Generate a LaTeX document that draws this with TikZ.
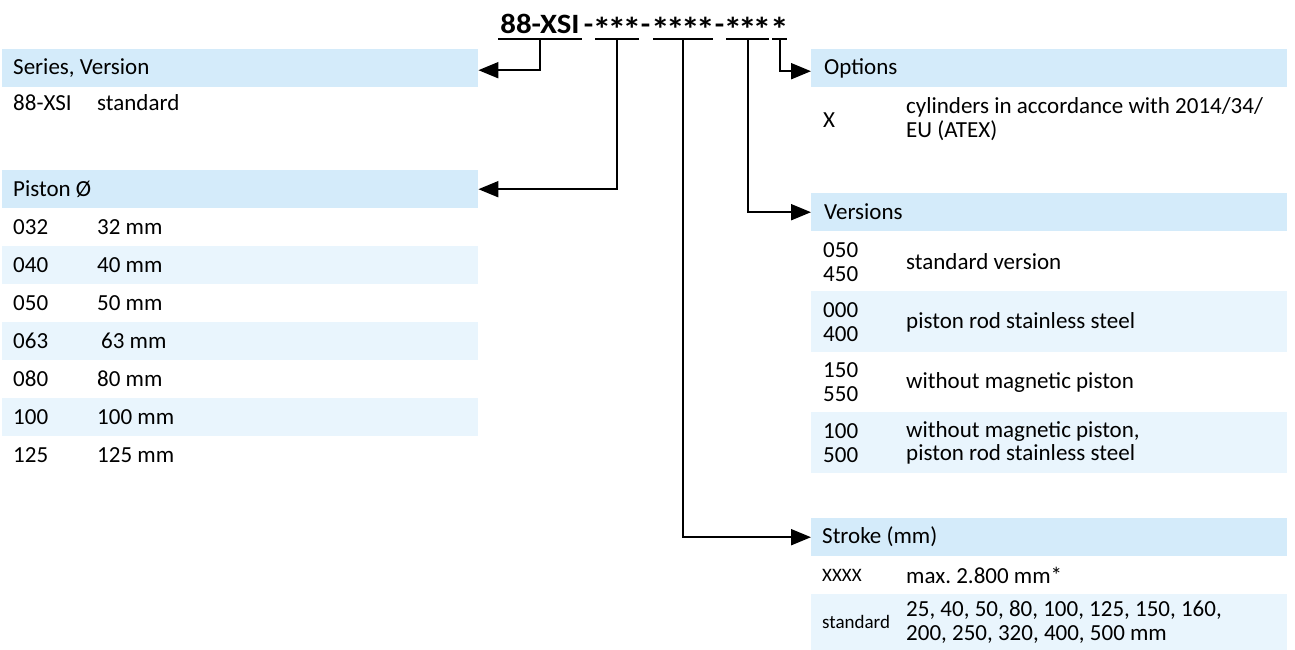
\documentclass[tikz,border=0pt]{standalone}
\usepackage{fontspec}
\setmainfont{Carlito}
\newfontfamily\titlefont[FakeStretch=1.1]{Carlito}
\usetikzlibrary{arrows.meta}
\definecolor{hdrblue}{RGB}{212,235,250}
\definecolor{rowblue}{RGB}{233,245,253}
\begin{document}
\begin{tikzpicture}[x=1pt,y=-1pt,
  hdr/.style={fill=hdrblue, draw=none, inner sep=0pt, minimum width=476pt, minimum height=38pt, anchor=north west},
  rowband/.style={fill=rowblue, draw=none, inner sep=0pt, minimum width=476pt, anchor=north west},
  txt/.style={inner sep=0pt, anchor=west, align=left, font=\fontsize{23}{23.5}\selectfont},
  smalltxt/.style={inner sep=0pt, anchor=west, font=\fontsize{19}{21}\selectfont},
  code/.style={inner sep=0pt, anchor=base, font=\titlefont\bfseries\fontsize{28}{30}\selectfont},
  star/.style={inner sep=0pt, anchor=base, font=\titlefont\bfseries\fontsize{34}{36}\selectfont},
  bar/.style={fill=black, draw=none, inner sep=0pt, minimum height=2pt},
  conn/.style={line width=2pt, -{Triangle[length=20pt,width=16pt]}}]
\useasboundingbox (0,0) rectangle (1295,650);

% ---- order code ----
\node[code] (c1) at (540,34) {88-XSI};
\node[code] (d1) at (588.5,34) {-};
\node[star] (s01) at (602,42) {*};
\node[star] (s02) at (617,42) {*};
\node[star] (s03) at (632,42) {*};
\node[code] (d2) at (645.5,34) {-};
\node[star] (s04) at (660.5,42) {*};
\node[star] (s05) at (675.5,42) {*};
\node[star] (s06) at (690.5,42) {*};
\node[star] (s07) at (705.5,42) {*};
\node[code] (d3) at (719.5,34) {-};
\node[star] (s08) at (733,42) {*};
\node[star] (s09) at (747.5,42) {*};
\node[star] (s10) at (762,42) {*};
\node[star] (s11) at (779.5,42) {*};
\node[bar, minimum width=84pt] (u1) at (540,39) {};
\node[bar, minimum width=44pt] (u2) at (617,39) {};
\node[bar, minimum width=60pt] (u3) at (683,39) {};
\node[bar, minimum width=43pt] (u4) at (747.5,39) {};
\node[bar, minimum width=15pt] (u5) at (779.5,39) {};

% ---- left column ----
\node[hdr] (shdr) at (2,49) {};
\node[txt] (shdrt) at (13,68) {Series, Version};
\node[txt] (s1a) at (13,103) {88-XSI};
\node[txt] (s1b) at (97,103) {standard};

\node[hdr] (phdr) at (2,170) {};
\node[txt] (phdrt) at (13,189) {Piston Ø};
\node[rowband, minimum height=38pt] (pb2) at (2,246) {};
\node[rowband, minimum height=38pt] (pb4) at (2,322) {};
\node[rowband, minimum height=38pt] (pb6) at (2,398) {};
\node[txt] (p1a) at (13,227) {032};
\node[txt] (p1b) at (97,227) {32 mm};
\node[txt] (p2a) at (13,265) {040};
\node[txt] (p2b) at (97,265) {40 mm};
\node[txt] (p3a) at (13,303) {050};
\node[txt] (p3b) at (97,303) {50 mm};
\node[txt] (p4a) at (13,341) {063};
\node[txt] (p4b) at (101,341) {63 mm};
\node[txt] (p5a) at (13,379) {080};
\node[txt] (p5b) at (97,379) {80 mm};
\node[txt] (p6a) at (13,417) {100};
\node[txt] (p6b) at (97,417) {100 mm};
\node[txt] (p7a) at (13,455) {125};
\node[txt] (p7b) at (97,455) {125 mm};

% ---- right column ----
\node[hdr] (ohdr) at (811,49) {};
\node[txt] (ohdrt) at (824,68) {Options};
\node[txt] (o1a) at (823,120) {X};
\node[txt] (o1b) at (906,119) {cylinders in accordance with 2014/34/\\EU (ATEX)};

\node[hdr] (vhdr) at (811,193) {};
\node[txt] (vhdrt) at (824,212) {Versions};
\node[rowband, minimum height=61pt] (vb2) at (811,291) {};
\node[rowband, minimum height=61pt] (vb4) at (811,412) {};
\node[txt] (v1a) at (823,262) {050\\450};
\node[txt] (v1b) at (906,262) {standard version};
\node[txt] (v2a) at (823,322) {000\\400};
\node[txt] (v2b) at (906,322) {piston rod stainless steel};
\node[txt] (v3a) at (823,382) {150\\550};
\node[txt] (v3b) at (906,382) {without magnetic piston};
\node[txt] (v4a) at (823,443) {100\\500};
\node[txt] (v4b) at (906,443) {without magnetic piston,\\piston rod stainless steel};

\node[hdr] (khdr) at (811,518) {};
\node[txt] (khdrt) at (822,537) {Stroke (mm)};
\node[smalltxt] (k1a) at (822,575) {XXXX};
\node[txt] (k1b) at (906,575) {max.\ 2.800 mm*};
\node[rowband, minimum height=56pt] (kb2) at (811,594) {};
\node[smalltxt] (k2a) at (822,622) {standard};
\node[txt] (k2b) at (906,622) {25, 40, 50, 80, 100, 125, 150, 160,\\200, 250, 320, 400, 500 mm};

% ---- connectors ----
\draw[conn] (u1.south) |- ([yshift=-2pt]shdr.east);
\draw[conn] (u2.south) |- (phdr.east);
\draw[conn] (u3.south) |- (khdr.west);
\draw[conn] (u4.south) |- (vhdr.west);
\draw[conn] (u5.south) |- ([yshift=-3pt]ohdr.west);
\end{tikzpicture}
\end{document}
